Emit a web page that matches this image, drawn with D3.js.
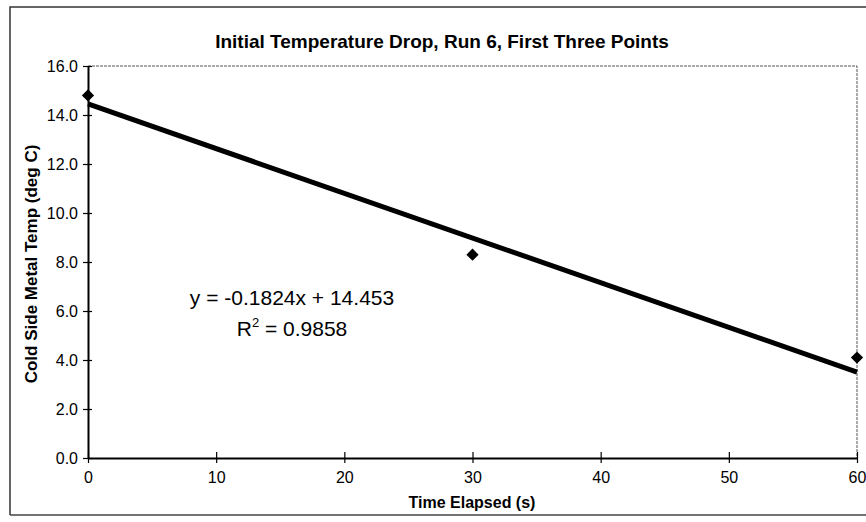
<!DOCTYPE html>
<html>
<head>
<meta charset="utf-8">
<script src="https://cdn.jsdelivr.net/npm/d3@7"></script>
<style>
  body { margin: 0; background: #fff; }
  text { font-family: "Liberation Sans", Arial, sans-serif; fill: #000; }
</style>
</head>
<body>
<div id="container"></div>
<script>
// data
let times = [0, 30, 60];
let temps = [14.8, 8.3, 4.1];
// trendline as printed on the chart
let trendSlope = -0.1824;
let trendIntercept = 14.453;
let trendR2 = 0.9858;
let xTicks = [0, 10, 20, 30, 40, 50, 60];
let yTicks = [0, 2, 4, 6, 8, 10, 12, 14, 16];

let width = 866, height = 522;
let plot = { left: 88, right: 857, top: 66, bottom: 458 };

let svg = d3.select("#container")
  .append("svg")
  .attr("width", width)
  .attr("height", height);

// outer chart border (left, top, bottom visible in the scan)
svg.append("path")
  .attr("d", "M10,515 L10,7 L866,7")
  .attr("fill", "none")
  .attr("stroke", "#333")
  .attr("stroke-width", 1.5);
svg.append("line")
  .attr("x1", 10).attr("x2", 866)
  .attr("y1", 515).attr("y2", 515)
  .attr("stroke", "#444")
  .attr("stroke-width", 1.5);

let x = d3.scaleLinear().domain([0, 60]).range([plot.left, plot.right]);
let y = d3.scaleLinear().domain([0, 16]).range([plot.bottom, plot.top]);

// plot area frame, top and right
svg.append("path")
  .attr("d", "M" + plot.left + "," + plot.top + " L" + plot.right + "," + plot.top + " L" + plot.right + "," + plot.bottom)
  .attr("fill", "none")
  .attr("stroke", "#555")
  .attr("stroke-width", 1)
  .attr("stroke-dasharray", "3,1");

// y axis
let yAxis = svg.append("g")
  .attr("transform", "translate(" + plot.left + ",0)")
  .call(d3.axisLeft(y).tickValues(yTicks).tickFormat(d3.format(".1f")).tickSize(5).tickSizeOuter(0));
yAxis.select(".domain").attr("stroke", "#000").attr("stroke-width", 2);
yAxis.selectAll(".tick line").attr("x2", 4).attr("x1", -5).attr("stroke-width", 1.2);
yAxis.selectAll(".tick text")
  .attr("x", -10)
  .style("font-size", "16px")
  .style("font-family", "'Liberation Sans', Arial, sans-serif");

// x axis
let xAxis = svg.append("g")
  .attr("transform", "translate(0," + plot.bottom + ")")
  .call(d3.axisBottom(x).tickValues(xTicks).tickSize(5).tickSizeOuter(0));
xAxis.select(".domain").attr("stroke", "#000").attr("stroke-width", 2);
xAxis.selectAll(".tick line").attr("y1", -6).attr("y2", 5).attr("stroke-width", 1.2);
xAxis.selectAll(".tick text")
  .attr("y", 14)
  .style("font-size", "16px")
  .style("font-family", "'Liberation Sans', Arial, sans-serif");

// trendline from the printed equation
svg.append("line")
  .attr("x1", x(0)).attr("y1", y(trendIntercept))
  .attr("x2", x(60)).attr("y2", y(trendIntercept + trendSlope * 60))
  .attr("stroke", "#000")
  .attr("stroke-width", 5);

// data markers
let points = times.map(function(t, i) { return { t: t, v: temps[i] }; });
svg.append("g")
  .selectAll("path")
  .data(points)
  .enter().append("path")
    .attr("d", d3.symbol().type(d3.symbolSquare).size(75))
    .attr("transform", function(d) {
      return "translate(" + x(d.t) + "," + y(d.v) + ") rotate(45)";
    })
    .attr("fill", "#000");

// title
svg.append("text")
  .attr("x", 442)
  .attr("y", 48)
  .attr("text-anchor", "middle")
  .attr("font-size", "19px")
  .attr("font-weight", "bold")
  .text("Initial Temperature Drop, Run 6, First Three Points");

// axis titles
svg.append("text")
  .attr("x", 472)
  .attr("y", 508)
  .attr("text-anchor", "middle")
  .attr("font-size", "16px")
  .attr("font-weight", "bold")
  .text("Time Elapsed (s)");

svg.append("text")
  .attr("transform", "translate(37,264) rotate(-90)")
  .attr("text-anchor", "middle")
  .attr("font-size", "17px")
  .attr("font-weight", "bold")
  .text("Cold Side Metal Temp (deg C)");

// equation label
let eq = svg.append("g").attr("transform", "translate(292,0)");
eq.append("text")
  .attr("y", 305)
  .attr("text-anchor", "middle")
  .attr("font-size", "21px")
  .text("y = " + trendSlope + "x + " + trendIntercept);
let r2 = eq.append("text")
  .attr("y", 336)
  .attr("text-anchor", "middle")
  .attr("font-size", "21px");
r2.append("tspan").text("R");
r2.append("tspan").attr("dy", -9).attr("font-size", "13px").text("2");
r2.append("tspan").attr("dy", 9).text(" = " + trendR2);
</script>
</body>
</html>
